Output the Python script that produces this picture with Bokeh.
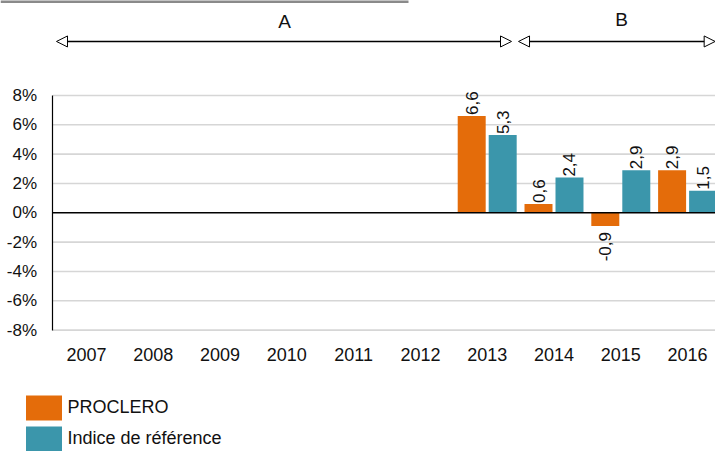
import math
from bokeh.plotting import figure
from bokeh.models import (Range1d, LinearAxis, FixedTicker, PrintfTickFormatter,
                          ColumnDataSource, Arrow, NormalHead, Label)
from bokeh.core.properties import value
from bokeh.embed import file_html
from bokeh.resources import INLINE

# ---------------- data ----------------
years = ["2007", "2008", "2009", "2010", "2011", "2012", "2013", "2014", "2015", "2016"]
proclero = [None, None, None, None, None, None, 6.6, 0.6, -0.9, 2.9]
indice = [None, None, None, None, None, None, 5.3, 2.4, 2.9, 1.5]
y_ticks = [-8, -6, -4, -2, 0, 2, 4, 6, 8]
series_names = ["PROCLERO", "Indice de référence"]
periods = ["A", "B"]

# ---------------- style ----------------
FONT = "Liberation Sans"
ORANGE = "#E46C0A"
TEAL = "#3B96AB"
X0, X1 = -1.2859, 9.4177
Y0, Y1 = -16.271, 14.472

p = figure(width=715, height=451, x_range=Range1d(X0, X1), y_range=Range1d(Y0, Y1),
           output_backend="svg", toolbar_location=None, tools="", title=None,
           x_axis_location=None, y_axis_location=None, min_border=0)
p.outline_line_color = None
p.background_fill_color = "white"
p.border_fill_color = "white"
for g in p.grid:
    g.visible = False

# top decorative rule
p.segment(x0=[X0], x1=[4.822], y0=[14.40], y1=[14.40], line_color="#8a8a8a", line_width=3)

# gridlines (from tick values)
grid_vals = [t for t in y_ticks if t != 0]
p.segment(x0=[-0.5] * len(grid_vals), x1=[X1] * len(grid_vals), y0=grid_vals, y1=grid_vals,
          line_color="#d6d6d6", line_width=1.6)

# bars
OFF = 0.232
W = 0.419
def make_src(vals, off):
    idx = [i for i, v in enumerate(vals) if v is not None]
    xs = [i + off for i in idx]
    ys = [vals[i] for i in idx]
    labels = [f"{v:.1f}".replace(".", ",") for v in ys]
    return xs, ys, labels

for vals, off, color, name in [(proclero, -OFF, ORANGE, series_names[0]),
                               (indice, OFF, TEAL, series_names[1])]:
    xs, ys, labels = make_src(vals, off)
    src = ColumnDataSource(dict(x=xs, top=ys, label=labels))
    p.vbar(x="x", top="top", bottom=0, width=W, source=src, fill_color=color,
           line_color=None, legend_label=name)
    pos = ColumnDataSource(dict(x=[x for x, y in zip(xs, ys) if y >= 0],
                                y=[y for y in ys if y >= 0],
                                t=[l for l, y in zip(labels, ys) if y >= 0]))
    neg = ColumnDataSource(dict(x=[x for x, y in zip(xs, ys) if y < 0],
                                y=[y for y in ys if y < 0],
                                t=[l for l, y in zip(labels, ys) if y < 0]))
    p.text(x="x", y="y", text="t", source=pos, angle=math.pi / 2, text_align="left",
           text_baseline="middle", y_offset=-1, text_font=value(FONT),
           text_font_size="17px", text_color="#111111")
    p.text(x="x", y="y", text="t", source=neg, angle=math.pi / 2, text_align="right",
           text_baseline="middle", y_offset=6, text_font=value(FONT),
           text_font_size="17px", text_color="#111111")

# zero line
p.segment(x0=[-0.5], x1=[X1], y0=[0], y1=[0], line_color="black", line_width=1.5)

# axes
yaxis = LinearAxis(fixed_location=-0.5, ticker=FixedTicker(ticks=y_ticks),
                   formatter=PrintfTickFormatter(format="%d%%"), bounds=(-8, 8))
yaxis.axis_line_color = "black"
yaxis.axis_line_width = 1.2
yaxis.major_tick_line_color = None
yaxis.minor_tick_line_color = None
yaxis.major_tick_out = 0
yaxis.major_label_standoff = 16
yaxis.major_label_text_font = FONT
yaxis.major_label_text_font_size = "17px"
yaxis.major_label_text_color = "#111111"
p.add_layout(yaxis, "left")

xaxis = LinearAxis(fixed_location=-8, ticker=FixedTicker(ticks=list(range(len(years)))),
                   major_label_overrides={i: y for i, y in enumerate(years)})
xaxis.axis_line_color = None
xaxis.major_tick_line_color = None
xaxis.minor_tick_line_color = None
xaxis.major_tick_out = 0
xaxis.major_label_standoff = 18
xaxis.major_label_text_font = FONT
xaxis.major_label_text_font_size = "18px"
xaxis.major_label_text_color = "#111111"
p.add_layout(xaxis, "below")

# period arrows
def head():
    return NormalHead(size=11, fill_color="white", line_color="black", line_width=1)

ARROW_Y = 11.68
p.add_layout(Arrow(start=head(), end=head(), x_start=-0.4476, y_start=ARROW_Y,
                   x_end=6.364, y_end=ARROW_Y, line_color="black", line_width=1.5))
p.add_layout(Arrow(start=head(), end=head(), x_start=6.469, y_start=ARROW_Y,
                   x_end=X1 - 0.005, y_end=ARROW_Y, line_color="black", line_width=1.5))
for txt, lx, ly in [(periods[0], 2.966, 13.04), (periods[1], 8.011, 13.18)]:
    p.add_layout(Label(x=lx, y=ly, text=txt, text_align="center", text_baseline="middle",
                       text_font=FONT, text_font_size="19px", text_color="#111111"))

# legend
lg = p.legend[0]
lg.location = (20.5, -3.1)
lg.orientation = "vertical"
lg.padding = 0
lg.margin = 0
lg.spacing = -6
lg.glyph_width = 45
lg.glyph_height = 31
lg.label_standoff = 2
lg.border_line_color = None
lg.background_fill_alpha = 0
lg.label_text_font = FONT
lg.label_text_font_size = "18px"
lg.label_text_color = "#111111"

open("out.html", "w").write(file_html(p, INLINE))
